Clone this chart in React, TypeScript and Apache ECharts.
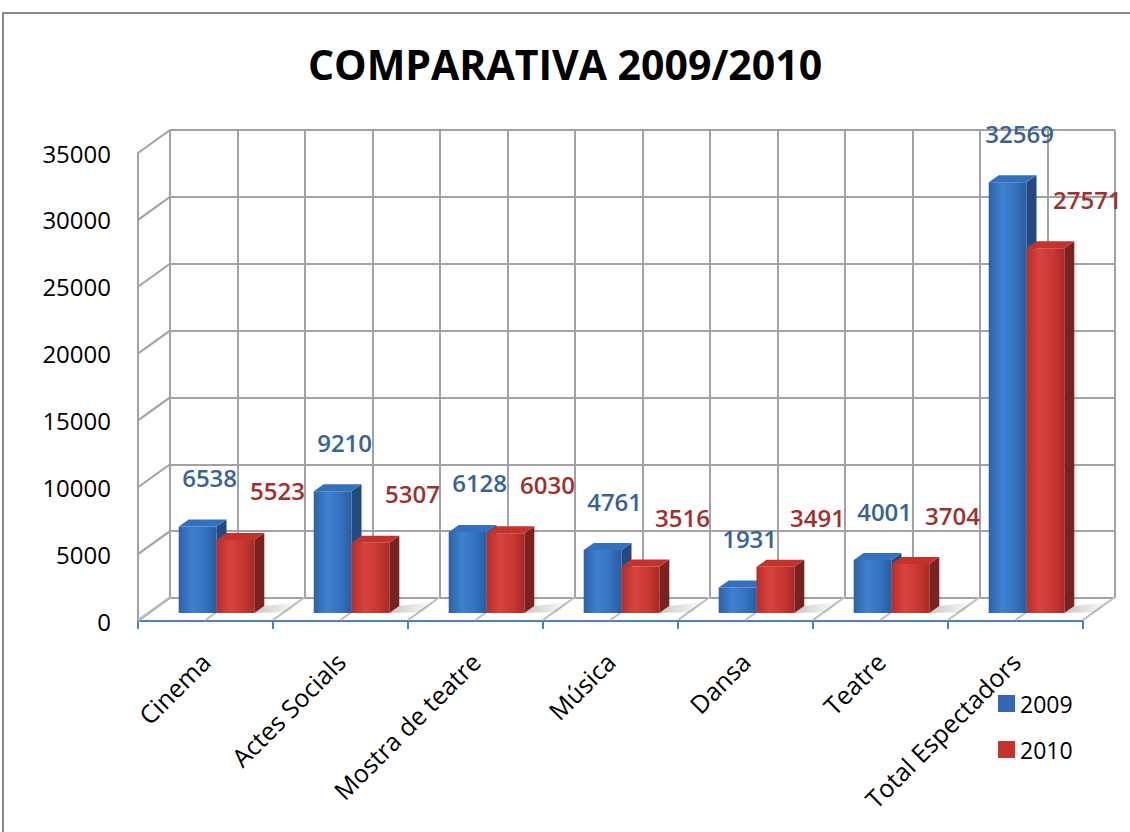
import React, { useEffect, useRef } from "react";
import * as echarts from "echarts";

const categories = ["Cinema", "Actes Socials", "Mostra de teatre", "Música", "Dansa", "Teatre", "Total Espectadors"];
const values2009 = [6538, 9210, 6128, 4761, 1931, 4001, 32569];
const values2010 = [5523, 5307, 6030, 3516, 3491, 3704, 27571];
const seriesNames = ["2009", "2010"];
const yTicks = [0, 5000, 10000, 15000, 20000, 25000, 30000, 35000];
const titleText = "COMPARATIVA 2009/2010";

const Y_MAX = 35000;
const Y_STEP = 5000;
const WALL_DX = 32;
const WALL_DY = 23;
const BAR_DX = 10;
const BAR_DY = 7;
const GRID_COLOR = "#a2a2a2";
const FONT = "'Open Sans', 'Noto Sans', sans-serif";

const palettes = [
  {
    legend: "#3468b4",
    front: ["#2c62a8", "#3f80d0", "#3473c0", "#2a5c9f"],
    side: "#24497f",
    top: "#3570bd",
    label: "#386399",
  },
  {
    legend: "#c0332f",
    front: ["#b52e2a", "#d8433e", "#c93833", "#a82a26"],
    side: "#7a2220",
    top: "#c4322e",
    label: "#a1302d",
  },
];

export default function App() {
  const ref = useRef<HTMLDivElement>(null);

  useEffect(() => {
    if (!ref.current) return;
    const chart = echarts.init(ref.current, undefined, { renderer: "svg" });

    const catCount = categories.length;
    const floorMarks = Array.from({ length: catCount * 2 + 1 }, (_, k) => [0, 0, k]);
    const wallMarks = yTicks.map((v) => [0, v]);

    const barRender = (side: number) => (params: any, api: any) => {
      const pal = palettes[side];
      const i = api.value(0);
      const v = api.value(1);
      const top = api.coord([i, v]);
      const base = api.coord([i, 0]);
      const bw = api.size([1, 0])[0] * 0.28;
      const x0 = side === 0 ? top[0] - bw : top[0];
      const x1 = x0 + bw;
      const yT = top[1];
      const yB = base[1];
      const frontGrad = new echarts.graphic.LinearGradient(0, 0, 1, 0, [
        { offset: 0, color: pal.front[0] },
        { offset: 0.35, color: pal.front[1] },
        { offset: 0.7, color: pal.front[2] },
        { offset: 1, color: pal.front[3] },
      ]);
      const shadowGrad = new echarts.graphic.LinearGradient(0, 0, 1, 0, [
        { offset: 0, color: "rgba(0,0,0,0.22)" },
        { offset: 1, color: "rgba(0,0,0,0)" },
      ]);
      const labelDx = side === 0 ? 12 : 42;
      return {
        type: "group",
        children: [
          {
            type: "polygon",
            shape: { points: [[x1, yB], [x1 + BAR_DX + 26, yB - 1], [x1 + BAR_DX + 34, yB - BAR_DY - 4], [x1 + BAR_DX, yB - BAR_DY]] },
            style: { fill: shadowGrad },
          },
          {
            type: "polygon",
            shape: { points: [[x1, yT], [x1 + BAR_DX, yT - BAR_DY], [x1 + BAR_DX, yB - BAR_DY], [x1, yB]] },
            style: { fill: pal.side },
          },
          {
            type: "rect",
            shape: { x: x0, y: yT, width: bw, height: yB - yT },
            style: { fill: frontGrad },
          },
          {
            type: "polygon",
            shape: { points: [[x0, yT], [x0 + BAR_DX, yT - BAR_DY], [x1 + BAR_DX, yT - BAR_DY], [x1, yT]] },
            style: { fill: pal.top },
          },
          {
            type: "text",
            x: x0 + bw / 2 + labelDx,
            y: yT - 49,
            style: {
              text: String(v),
              fill: pal.label,
              fontSize: 24,
              fontWeight: 600,
              fontFamily: FONT,
              align: "center",
              verticalAlign: "middle",
            },
          },
        ],
      };
    };

    const option: any = {
      animation: false,
      backgroundColor: "#ffffff",
      title: {
        text: titleText,
        left: "center",
        top: 38,
        textStyle: { fontSize: 41, fontWeight: "bold", fontFamily: FONT, color: "#000" },
      },
      graphic: [
        {
          type: "rect",
          shape: { x: 3, y: 13, width: 1160, height: 860 },
          style: { fill: "none", stroke: "#8a8a8a", lineWidth: 2 },
          silent: true,
        },
      ],
      legend: {
        orient: "vertical",
        left: 993,
        top: 687,
        itemWidth: 17,
        itemHeight: 17,
        itemGap: 23,
        icon: "rect",
        data: seriesNames,
        textStyle: { fontSize: 23, fontFamily: FONT, color: "#000", lineHeight: 23 },
      },
      grid: [
        { left: 138, right: 47, top: 153, bottom: 211, outerBoundsMode: "none" },
        { left: 170, right: 15, top: 130, bottom: 234, outerBoundsMode: "none" },
        { left: 149, right: 36, top: 150, bottom: 219, outerBoundsMode: "none" },
      ],
      xAxis: [
        {
          type: "category",
          gridIndex: 0,
          data: categories,
          axisLine: { show: true, lineStyle: { color: "#4f81bd", width: 2 } },
          axisTick: { show: true, length: 8, lineStyle: { color: "#4f81bd", width: 2 } },
          axisLabel: { interval: 0, rotate: 45, margin: 36, fontSize: 25, fontFamily: FONT, color: "#000" },
          splitLine: { show: false },
        },
        {
          type: "value",
          gridIndex: 1,
          min: 0,
          max: catCount * 2,
          interval: 1,
          axisLine: { show: false },
          axisTick: { show: false },
          axisLabel: { show: false },
          splitLine: { show: true, lineStyle: { color: GRID_COLOR, width: 2 } },
        },
        {
          type: "category",
          gridIndex: 2,
          data: categories,
          show: false,
        },
      ],
      yAxis: [
        {
          type: "value",
          gridIndex: 0,
          min: 0,
          max: Y_MAX,
          interval: Y_STEP,
          axisLine: { show: true, lineStyle: { color: GRID_COLOR, width: 2 } },
          axisTick: { show: false },
          axisLabel: {
            margin: 27,
            fontSize: 24,
            fontFamily: FONT,
            color: "#000",
            formatter: (v: number) => String(v),
          },
          splitLine: { show: false },
        },
        {
          type: "value",
          gridIndex: 1,
          min: 0,
          max: Y_MAX,
          interval: Y_STEP,
          axisLine: { show: false },
          axisTick: { show: false },
          axisLabel: { show: false },
          splitLine: { show: true, lineStyle: { color: GRID_COLOR, width: 2 } },
        },
        {
          type: "value",
          gridIndex: 2,
          min: 0,
          max: Y_MAX,
          interval: Y_STEP,
          show: false,
          splitLine: { show: false },
        },
      ],
      series: [
        {
          name: "leftWall",
          type: "custom",
          xAxisIndex: 0,
          yAxisIndex: 0,
          data: wallMarks,
          silent: true,
          z: 1,
          renderItem: (params: any, api: any) => {
            const p = api.coord([0, api.value(1)]);
            const half = api.size([1, 0])[0] / 2;
            const x = p[0] - half;
            return {
              type: "line",
              shape: { x1: x, y1: p[1], x2: x + WALL_DX, y2: p[1] - WALL_DY },
              style: { stroke: GRID_COLOR, lineWidth: 2 },
            };
          },
        },
        {
          name: "floor",
          type: "custom",
          xAxisIndex: 0,
          yAxisIndex: 0,
          data: floorMarks,
          silent: true,
          z: 1,
          renderItem: (params: any, api: any) => {
            const p = api.coord([0, 0]);
            const bw = api.size([1, 0])[0];
            const x = p[0] - bw / 2 + (api.value(2) * bw) / 2;
            return {
              type: "line",
              shape: { x1: x, y1: p[1] - 1, x2: x + WALL_DX, y2: p[1] - 1 - WALL_DY },
              style: { stroke: "#bdbdbd", lineWidth: 2 },
            };
          },
        },
        {
          name: seriesNames[0],
          type: "custom",
          xAxisIndex: 2,
          yAxisIndex: 2,
          itemStyle: { color: palettes[0].legend },
          data: values2009.map((v, i) => [i, v]),
          renderItem: barRender(0),
          z: 3,
        },
        {
          name: seriesNames[1],
          type: "custom",
          xAxisIndex: 2,
          yAxisIndex: 2,
          itemStyle: { color: palettes[1].legend },
          data: values2010.map((v, i) => [i, v]),
          renderItem: barRender(1),
          z: 4,
        },
      ],
    };

    chart.setOption(option);
    return () => chart.dispose();
  }, []);

  return (
    <div
      ref={ref}
      style={{ position: "absolute", left: 0, top: 0, width: 1130, height: 832, background: "#fff" }}
    />
  );
}
